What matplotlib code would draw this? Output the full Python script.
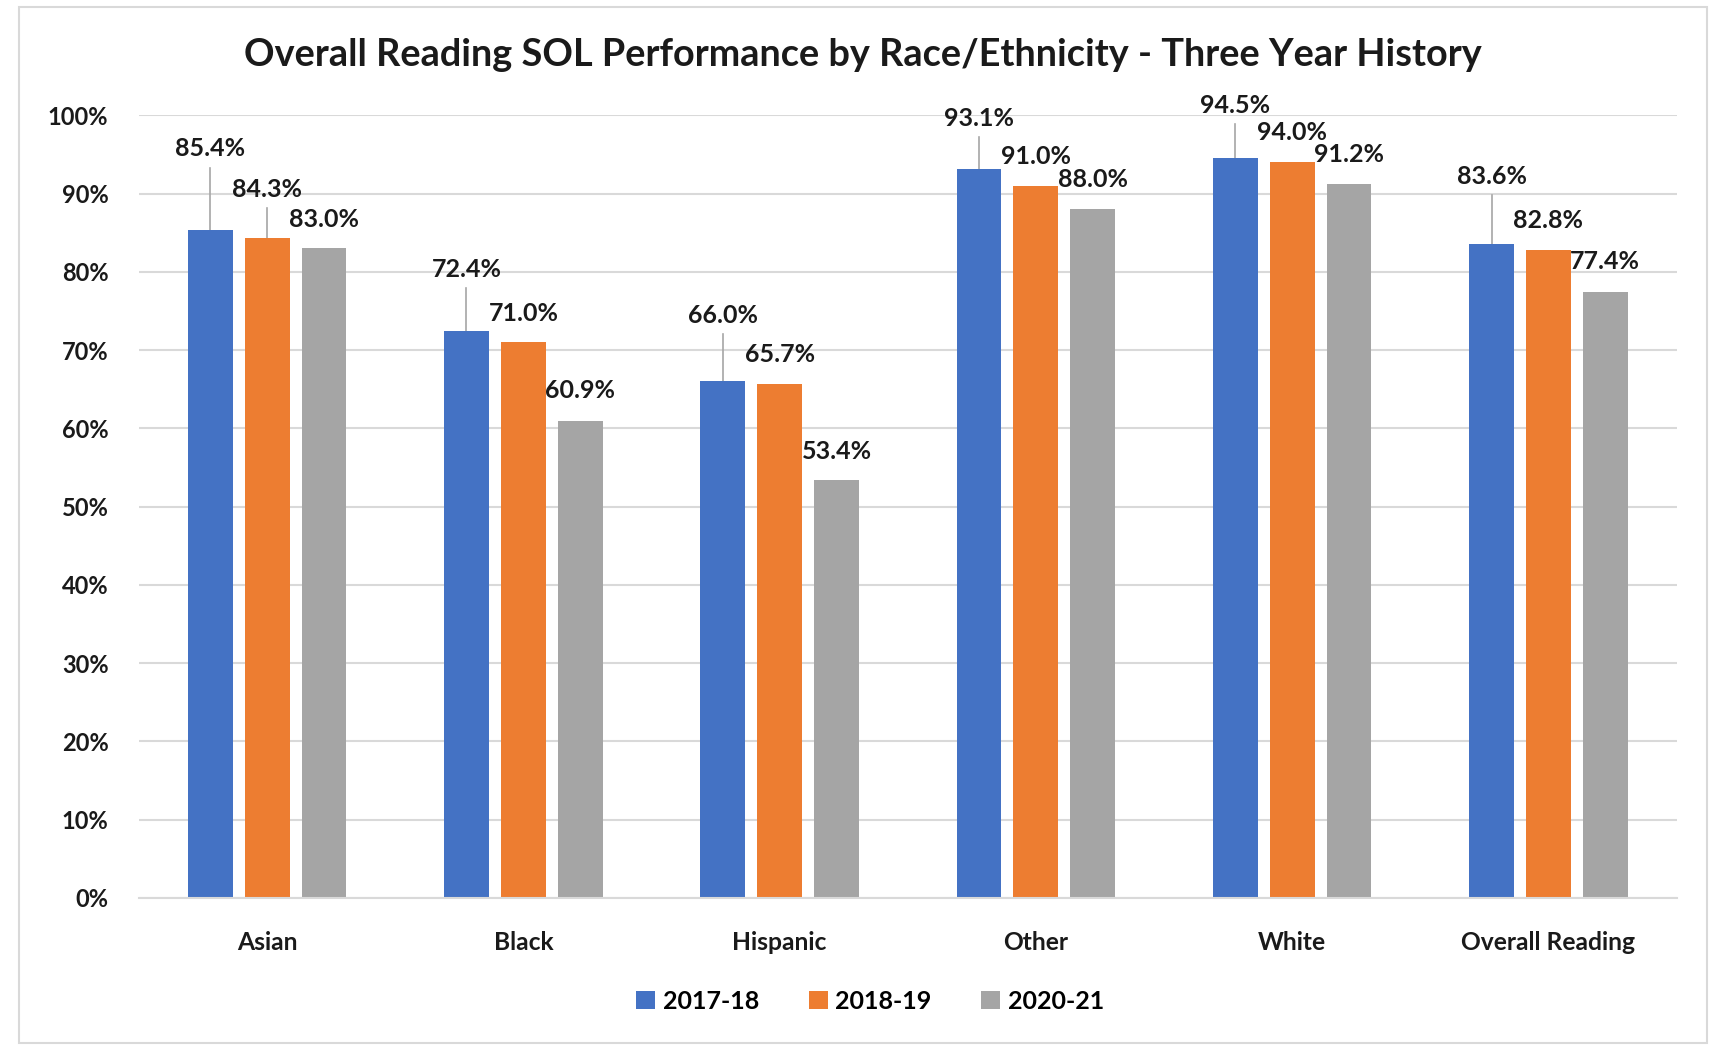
import numpy as np
import matplotlib
matplotlib.use("Agg")
import matplotlib.pyplot as plt
from matplotlib.patches import Rectangle

plt.rcParams['font.family'] = ['Lato', 'DejaVu Sans']

# datos
categories = ['Asian', 'Black', 'Hispanic', 'Other', 'White', 'Overall Reading']
years = ['2017-18', '2018-19', '2020-21']
v_2017 = [85.4, 72.4, 66.0, 93.1, 94.5, 83.6]
v_2018 = [84.3, 71.0, 65.7, 91.0, 94.0, 82.8]
v_2020 = [83.0, 60.9, 53.4, 88.0, 91.2, 77.4]

# altura de las etiquetas sobre cada barra (como en Excel, movidas a mano)
lab_2017 = [10.3, 7.9, 8.4, 6.5, 6.8, 8.6]
lab_2018 = [6.2, 3.7, 3.7, 3.7, 3.8, 3.8]
lab_2020 = [3.7, 3.9, 3.7, 3.8, 3.8, 3.9]

colors = ['#4472C4', '#ED7D31', '#A5A5A5']
series = [v_2017, v_2018, v_2020]
offsets = [lab_2017, lab_2018, lab_2020]

fig = plt.figure(figsize=(17.16, 10.45), dpi=100)
ax = fig.add_axes([0.081, 0.1407, 0.896, 0.749])

x = np.arange(len(categories))
pitch = 0.222
width = 0.175

for i, (vals, offs, c, yr) in enumerate(zip(series, offsets, colors, years)):
    xs = x + (i - 1) * pitch
    ax.bar(xs, vals, width, color=c, label=yr, zorder=2)
    for xi, v, d in zip(xs, vals, offs):
        ly = v + d
        if d > 5:
            ax.plot([xi, xi], [v, ly - 2.4], color='#A6A6A6', lw=1.2, zorder=1)
        ax.text(xi, ly, f'{v:.1f}%', ha='center', va='center',
                fontsize=18, fontweight='bold', color='#1a1a1a', zorder=3)

ax.set_xlim(-0.5, len(categories) - 0.5)
ax.set_ylim(0, 100)
ax.set_yticks(np.arange(0, 101, 10))
ax.set_yticklabels([f'{t}%' for t in range(0, 101, 10)])
ax.set_xticks(x)
ax.set_xticklabels(categories)
ax.yaxis.grid(True, color='#D9D9D9', lw=1.5, zorder=0)
ax.set_axisbelow(True)
for s in ['top', 'right', 'left']:
    ax.spines[s].set_visible(False)
ax.spines['bottom'].set_color('#D9D9D9')
ax.spines['bottom'].set_linewidth(1.5)
ax.tick_params(axis='both', length=0, labelsize=17, labelcolor='#1a1a1a')
ax.tick_params(axis='x', labelsize=17.7)
ax.tick_params(axis='y', pad=22)
ax.tick_params(axis='x', pad=24)
for t in ax.get_xticklabels() + ax.get_yticklabels():
    t.set_fontweight('bold')

fig.text(0.503, 0.947, 'Overall Reading SOL Performance by Race/Ethnicity - Three Year History',
         ha='center', va='center', fontsize=27.3, fontweight='bold', color='#1a1a1a')

leg = fig.legend(loc='center', bbox_to_anchor=(0.507, 0.042), ncol=3, frameon=False,
                 handlelength=0.75, handleheight=0.75, handletextpad=0.3, columnspacing=2.0,
                 prop={'size': 18, 'weight': 'bold'})

fig.patches.append(Rectangle((19 / 1716, 2 / 1045), 1688 / 1716, 1036 / 1045,
                             transform=fig.transFigure, fill=False,
                             edgecolor='#D9D9D9', lw=1.5))

fig.savefig('out.png', dpi=100)
